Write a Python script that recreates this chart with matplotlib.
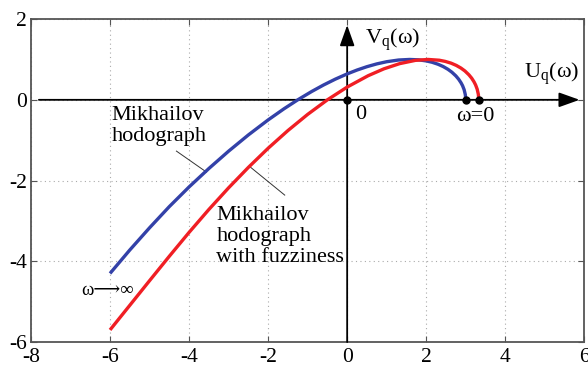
import matplotlib.pyplot as plt

plt.rcParams['font.family'] = ['Liberation Serif', 'DejaVu Serif', 'DejaVu Sans']
plt.rcParams['axes.unicode_minus'] = False

# Mikhailov hodograph (blue)
blue_u = [3.0, 2.99, 2.96, 2.92, 2.88, 2.82, 2.75, 2.65, 2.55, 2.43, 2.3, 2.15, 2.0,
          1.8, 1.58, 1.3, 1.0, 0.75, 0.5, 0.25, 0.0, -0.3, -0.6, -0.9, -1.25, -1.6,
          -2.0, -2.5, -3.0, -3.5, -4.0, -4.5, -5.0, -5.5, -6.0]
blue_v = [0.0, 0.126, 0.25, 0.35, 0.424, 0.512, 0.593, 0.684, 0.756, 0.824, 0.881, 0.93, 0.964,
          0.991, 1.0, 0.986, 0.944, 0.89, 0.821, 0.738, 0.642, 0.512, 0.366, 0.205, 0.0, -0.223,
          -0.498, -0.87, -1.272, -1.702, -2.158, -2.645, -3.17, -3.72, -4.3]

# hodograph with fuzziness (red)
red_u = [3.33, 3.32, 3.29, 3.25, 3.21, 3.15, 3.08, 2.98, 2.88, 2.76, 2.63, 2.48, 2.33,
         2.05, 1.73, 1.33, 0.93, 0.53, 0.0, -0.5, -1.0, -1.5, -2.0, -2.5, -3.0, -3.5,
         -4.0, -4.5, -5.0, -5.5, -6.0]
red_v = [0.0, 0.132, 0.263, 0.368, 0.445, 0.537, 0.62, 0.714, 0.786, 0.853, 0.908, 0.952, 0.981,
         1.0, 0.978, 0.897, 0.768, 0.597, 0.316, 0.0, -0.361, -0.762, -1.2, -1.674, -2.18, -2.717,
         -3.284, -3.875, -4.48, -5.09, -5.7]

# marked points on the real axis
dot_u = [0.0, 3.0, 3.33]
dot_v = [0.0, 0.0, 0.0]

x_ticks = [-8, -6, -4, -2, 0, 2, 4, 6]
y_ticks = [-6, -4, -2, 0, 2]

fig = plt.figure(figsize=(5.88, 3.67), dpi=100)
ax = fig.add_axes([0.0527, 0.068, 0.941, 0.880])

ax.set_xlim(-8, 6)
ax.set_ylim(-6, 2)
ax.set_xticks(x_ticks)
ax.set_yticks(y_ticks)
ax.tick_params(direction='in', top=True, right=True, length=4, width=0.8,
               labelsize=15.5, color='#555555')
ax.tick_params(axis='x', pad=4)
ax.tick_params(axis='y', pad=3)
ax.grid(True, linestyle=(0, (1, 3)), color='#aaaaaa', linewidth=0.8)
for s in ax.spines.values():
    s.set_color('#555555')
    s.set_linewidth(1.3)

# coordinate axes with arrows
arrow = dict(arrowstyle='-|>,head_length=0.7,head_width=0.25', color='black', lw=1.3,
             mutation_scale=18, shrinkA=0, shrinkB=0)
ax.annotate('', xy=(5.88, 0), xytext=(-7.8, 0), arrowprops=arrow)
ax.annotate('', xy=(0, 1.85), xytext=(0, -6), arrowprops=arrow)

ax.plot(blue_u, blue_v, color='#3341a8', lw=2.4, solid_capstyle='butt', zorder=4)
ax.plot(red_u, red_v, color='#f01e24', lw=2.4, solid_capstyle='butt', zorder=4)
ax.plot(dot_u, dot_v, 'o', color='black', markersize=5, zorder=5)

fs = 16
ax.text(0.46, 1.48, r'V$_\mathregular{q}$(ω)', fontsize=fs, va='center', ha='left')
ax.text(4.48, 0.63, r'U$_\mathregular{q}$(ω)', fontsize=fs, va='center', ha='left')
ax.text(0.35, -0.36, '0', fontsize=fs, va='center', ha='center')
ax.text(3.24, -0.42, 'ω=0', fontsize=fs, va='center', ha='center')
ax.text(-6.72, -4.72, 'ω⟶∞', fontsize=13.5, va='center', ha='left')

ax.text(-5.96, -0.64, 'Mikhailov\nhodograph', fontsize=fs, va='center', ha='left',
        linespacing=1.15)
ax.text(-3.31, -3.38, 'Mikhailov\nhodograph\nwith fuzziness', fontsize=fs,
        va='center', ha='left', linespacing=1.15)

# leader lines
ax.plot([-4.32, -3.56], [-1.27, -1.79], color='#333333', lw=0.7, zorder=3)
ax.plot([-2.47, -1.58], [-1.65, -2.36], color='#333333', lw=0.7, zorder=3)

fig.savefig('out.png', dpi=100)
